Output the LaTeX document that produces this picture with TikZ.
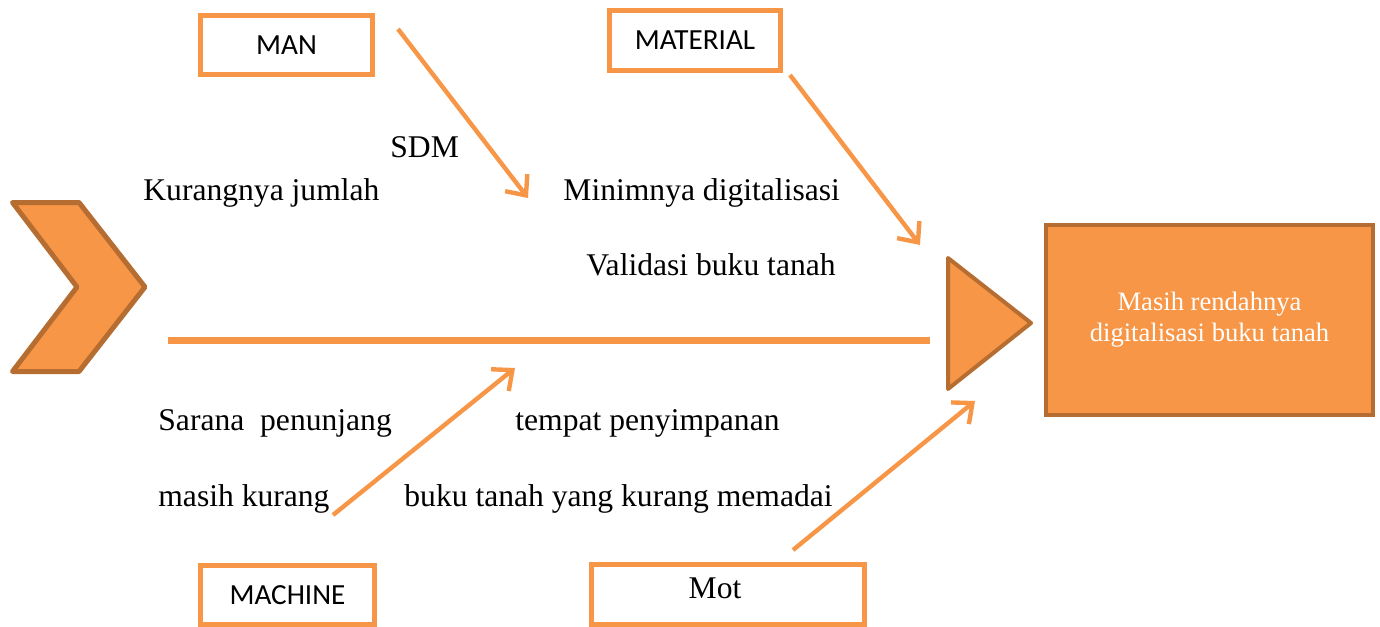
\documentclass[tikz,border=0pt]{standalone}
\usepackage{fontspec}
\setmainfont{Liberation Serif}
\newfontfamily\calibri{Carlito}
\usetikzlibrary{arrows.meta}
\definecolor{tangerine}{RGB}{247, 150, 70}
\definecolor{rust}{RGB}{182, 109, 49}

\begin{document}
\begin{tikzpicture}[x=0.5pt, y=-0.5pt,
        bone/.style={color=tangerine, line width=2.2pt, -{Straight Barb[length=8pt, width=14pt]}},
        catbox/.style={draw=tangerine, line width=2.5pt, fill=white, inner sep=0pt, font=\calibri\fontsize{14.6}{17}\selectfont},
        cause/.style={anchor=base west, inner sep=0pt, font=\fontsize{15.8}{19}\selectfont}]
            % Frame to ensure alignment
            \useasboundingbox (0,0) rectangle (1380,626);
            % Tail & spine
            \filldraw[color=rust, fill=tangerine, line width=2.5pt, line join=round] (12.5,202.5) -- (79,202.5) -- (145,287) -- (79,371.5) -- (12.5,371.5) -- (77,287) -- cycle;
            \coordinate (spineL) at (168,340);
            \coordinate (spineR) at (930,340);
            \draw[color=tangerine, line width=3.5pt] (spineL) -- (spineR);
            % Head
            \filldraw[color=rust, fill=tangerine, line width=2pt, line join=round] (948,258) -- (1031,323) -- (948,389) -- cycle;
            \node[draw=rust, fill=tangerine, line width=2pt, minimum width=163.5pt, minimum height=95pt, align=center, text=white, font=\fontsize{13.3}{15.5}\selectfont] (result) at (1209.5,320) {Masih rendahnya\\digitalisasi buku tanah};
            % Categories
            \node[catbox, minimum width=86pt, minimum height=29.5pt] (man) at (286.5,45) {MAN};
            \node[catbox, minimum width=85.5pt, minimum height=30pt] (material) at (695,40.5) {MATERIAL};
            \node[catbox, minimum width=87pt, minimum height=29.5pt] (machine) at (287.5,595) {MACHINE};
            \node[catbox, minimum width=136.5pt, minimum height=30pt] (mot) at (728,594.5) {};
            \node[inner sep=0pt, font=\fontsize{15.8}{19}\selectfont] (motText) at (715,588) {Mot};
            % Bones
            \coordinate (manTail) at (398,29);
            \coordinate (manTip) at (528,198);
            \coordinate (matTail) at (790,75);
            \coordinate (matTip) at (920,245);
            \coordinate (macTail) at (333,515);
            \coordinate (macTip) at (515,368);
            \coordinate (motTail) at (793,550);
            \coordinate (motTip) at (975,401);
            \draw[bone] (manTail) -- (manTip);
            \draw[bone] (matTail) -- (matTip);
            \draw[bone] (macTail) -- (macTip);
            \draw[bone] (motTail) -- (motTip);
            % Causes
            \node[cause] (sdm) at (390,157) {SDM};
            \node[cause] (kurang) at (143,200) {Kurangnya jumlah};
            \node[cause] (minim) at (563,200) {Minimnya digitalisasi};
            \node[cause] (validasi) at (586,275) {Validasi buku tanah};
            \node[cause] (sarana) at (158,430) {Sarana\ \ penunjang};
            \node[cause] (masih) at (158,506) {masih kurang};
            \node[cause] (tempat) at (515,430) {tempat penyimpanan};
            \node[cause] (buku) at (404,506) {buku tanah yang kurang memadai};
\end{tikzpicture}
\end{document}
